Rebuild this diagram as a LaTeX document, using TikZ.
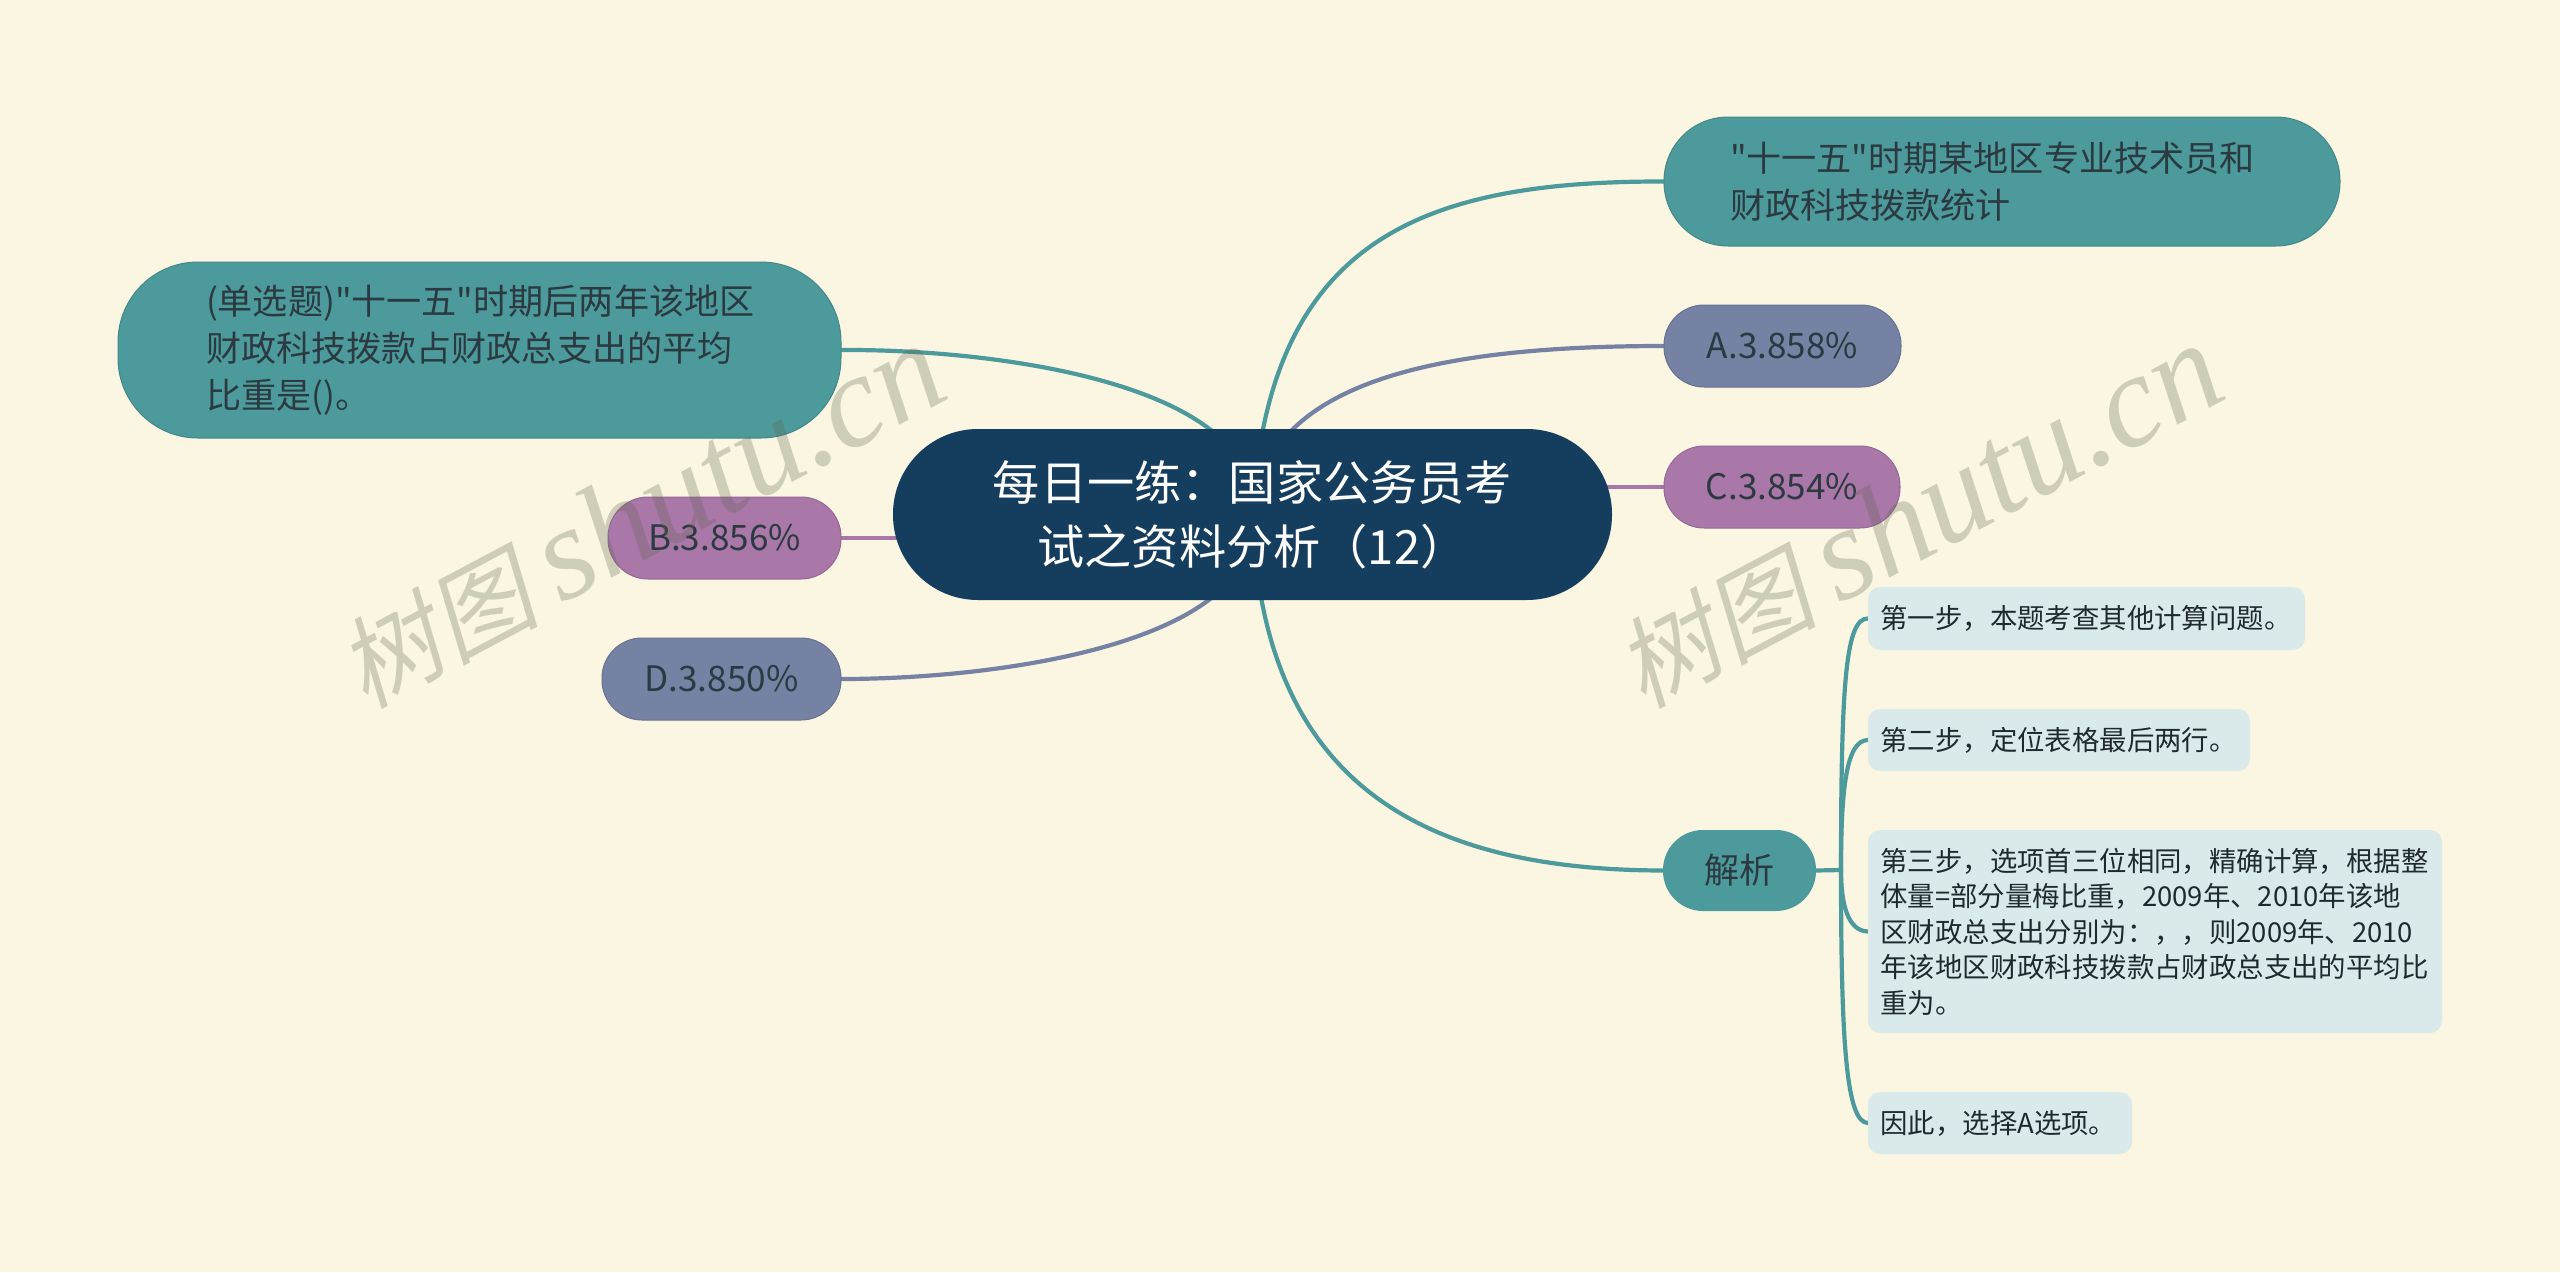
\documentclass[tikz,border=0pt]{standalone}
\usepackage{fontspec}
\newfontfamily\zh{Noto Sans CJK SC}
\newfontfamily\wmcjk[FakeSlant=0.2]{Noto Sans CJK SC}
\newfontfamily\wmlat{Liberation Serif}[ItalicFont={Liberation Serif Italic}]
\usetikzlibrary{backgrounds}
\definecolor{bgc}{HTML}{FAF6E1}
\definecolor{teal1}{HTML}{4D9A9C}
\definecolor{navy}{HTML}{153E5E}
\definecolor{purp}{HTML}{A977A8}
\definecolor{blueg}{HTML}{7682A4}
\definecolor{stepc}{HTML}{DAEAEA}
\definecolor{ink}{HTML}{2B3A40}
\definecolor{inkd}{HTML}{1F2A2E}
\definecolor{wm}{HTML}{5F6650}
\tikzset{
  x=1pt,y=-1pt,
  box/.style={shape=rectangle,anchor=north west,inner sep=0pt,outer sep=0pt,text=ink,font=\zh\fontsize{35.1}{47}\selectfont},
  bigteal/.style={box,fill=teal1,draw=teal1!88!black,line width=1pt,align=left},
  pill/.style={box,draw=#1!88!black,fill=#1,line width=1pt,align=center,rounded corners=40pt,minimum height=82pt},
  stepbox/.style={box,fill=stepc,text=inkd,rounded corners=12pt,align=left,font=\zh\fontsize{27.4}{35.5}\selectfont},
  link/.style={line width=4.2pt,line cap=round},
  wmark/.style={text=wm,opacity=.28,rotate=28,anchor=center,inner sep=0pt}
}
\begin{document}
\begin{tikzpicture}
\useasboundingbox (0,0) rectangle (2560,1272);
% nodes
\node[box,fill=navy,text=white,rounded corners=85pt,align=center,font=\zh\fontsize{47.2}{64}\selectfont,
  minimum width=719pt,minimum height=171pt,text width=719pt] (root) at (893,429) {每日一练：国家公务员考\\试之资料分析（12）};
\node[bigteal,rounded corners=64pt,minimum height=129pt,text width=544pt,inner xsep=66pt] (top) at (1664,117) {"十一五"时期某地区专业技术员和\\财政科技拨款统计};
\node[pill=blueg,minimum width=237pt] (A) at (1664,305) {A.3.858\%};
\node[pill=purp,minimum width=236pt] (C) at (1664,446) {C.3.854\%};
\node[bigteal,rounded corners=80pt,minimum height=176pt,text width=547pt,inner xsep=88pt] (Q) at (118,262) {(单选题)"十一五"时期后两年该地区\\财政科技拨款占财政总支出的平均\\比重是()。};
\node[pill=purp,minimum width=233pt] (B) at (608,497) {B.3.856\%};
\node[pill=blueg,minimum width=239pt] (D) at (602,638) {D.3.850\%};
\node[box,fill=teal1,rounded corners=40pt,align=center,minimum width=153pt,minimum height=81pt] (J) at (1663,830) {解析};
\node[stepbox,minimum height=63pt,text width=412pt,inner xsep=12.5pt] (S1) at (1868,587) {第一步，本题考查其他计算问题。};
\node[stepbox,minimum height=62pt,text width=357pt,inner xsep=12.5pt] (S2) at (1868,709) {第二步，定位表格最后两行。};
\node[stepbox,minimum height=203pt,text width=549pt,inner xsep=12.5pt] (S3) at (1868,830) {第三步，选项首三位相同，精确计算，根据整\\体量=部分量梅比重，2009年、2010年该地\\区财政总支出分别为：，，则2009年、2010\\年该地区财政科技拨款占财政总支出的平均比\\重为。};
\node[stepbox,minimum height=62pt,text width=239pt,inner xsep=12.5pt] (S4) at (1868,1092) {因此，选择A选项。};
\coordinate (trunk) at (1841,870);
% connectors and background
\begin{pgfonlayer}{background}
\fill[bgc] (0,0) rectangle (2560,1272);
\draw[link,teal1] (root.center) .. controls (1268,240) and (1420,181) .. (top.west);
\draw[link,blueg] (root.center) .. controls (1265,380) and (1440,346) .. (A.west);
\draw[link,purp] (C.west) -- (C.west -| root.center);
\draw[link,teal1] (Q.east) .. controls (1000,349) and (1265,385) .. (root.center);
\draw[link,purp] (B.east) -- (B.east -| root.center);
\draw[link,blueg] (D.east) .. controls (1000,679) and (1265,643) .. (root.center);
\draw[link,teal1] (root.center) .. controls (1262,790) and (1430,870) .. (J.west);
\draw[link,teal1] (J.east) -- (trunk);
\draw[link,teal1] (trunk) .. controls (1841,680) and (1846,618) .. (S1.west);
\draw[link,teal1] (trunk) .. controls (1841,790) and (1846,740) .. (S2.west);
\draw[link,teal1] (trunk) .. controls (1841,905) and (1848,931) .. (S3.west);
\draw[link,teal1] (trunk) .. controls (1841,1040) and (1846,1123) .. (S4.west);
\end{pgfonlayer}
% watermarks
\node[wmark] (w1) at (640,516) {{\wmcjk\fontsize{100}{100}\selectfont 树图}\hspace{22pt}{\wmlat\itshape\fontsize{132}{132}\selectfont shutu.cn}};
\node[wmark] (w2) at (1918,516) {{\wmcjk\fontsize{100}{100}\selectfont 树图}\hspace{22pt}{\wmlat\itshape\fontsize{132}{132}\selectfont shutu.cn}};
\end{tikzpicture}
\end{document}
